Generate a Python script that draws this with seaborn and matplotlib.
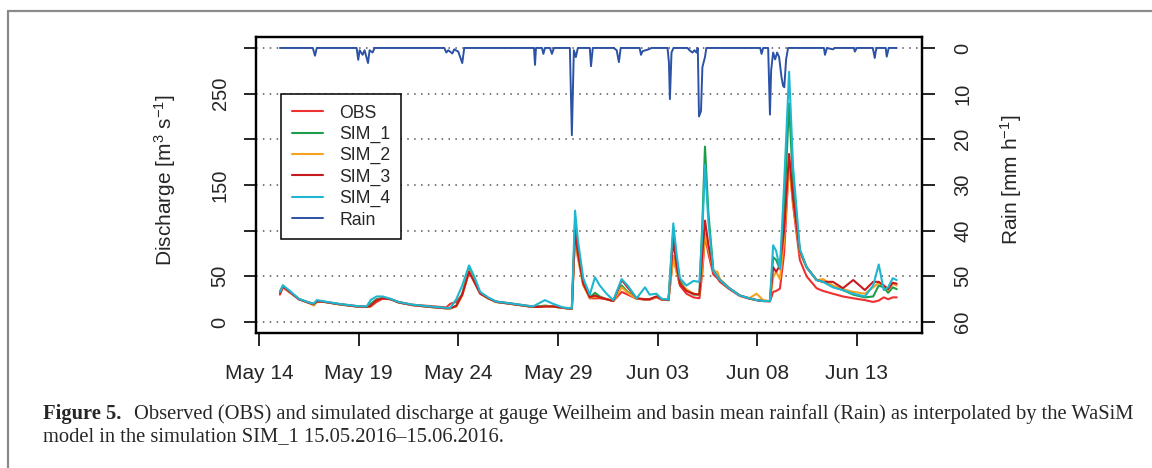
import matplotlib
matplotlib.use("Agg")
import matplotlib.pyplot as plt
import matplotlib.dates as mdates
from matplotlib.lines import Line2D
import pandas as pd
import seaborn as sns

sns.set_theme(style="ticks")
plt.rcParams["font.family"] = ["Liberation Sans", "DejaVu Sans"]
plt.rcParams["mathtext.fontset"] = "custom"
plt.rcParams["mathtext.rm"] = "Liberation Sans"
plt.rcParams["mathtext.default"] = "regular"

start = pd.Timestamp("2016-05-14")

# discharge at these times (days after 14 May 00:00)
q_days = [1.05, 1.2, 1.5, 2.0, 2.5, 2.75, 2.9, 3.3,
          4.0, 4.9, 5.4, 5.6, 5.9, 6.2, 6.6, 7.0,
          7.7, 8.6, 9.4, 9.6, 9.9, 10.2, 10.54, 10.8,
          11.1, 11.5, 11.9, 12.6, 13.75, 14.0, 14.35, 14.75,
          15.25, 15.7, 15.86, 16.0, 16.27, 16.6, 16.86, 17.1,
          17.44, 17.78, 18.2, 18.5, 18.95, 19.37, 19.6, 19.95,
          20.2, 20.55, 20.79, 20.95, 21.12, 21.45, 21.8, 22.1,
          22.25, 22.38, 22.55, 22.8, 23.0, 23.13, 23.6, 24.13,
          24.6, 24.97, 25.3, 25.64, 25.8, 25.95, 26.14, 26.35,
          26.6, 26.8, 27.14, 27.48, 27.98, 28.31, 28.8, 29.3,
          29.82, 30.4, 30.82, 31.1, 31.35, 31.57, 31.8, 32.0]

obs = [30, 38, 33, 25, 21.5, 20, 22, 22,
       19.8, 17.5, 17, 17, 22, 25.5, 25, 22,
       19, 17.5, 16, 20, 22, 30, 55, 45,
       32, 26, 22.5, 20.5, 17, 17, 17.5, 17.5,
       15.5, 14.5, 95, 72, 42, 26, 26, 26,
       25, 23, 33, 30, 25.5, 24.5, 24.5, 27,
       24.5, 24, 72, 56, 40, 31, 27, 26,
       55, 95, 75, 52, 48, 44, 36, 28.5,
       25.5, 24, 23, 22.5, 33, 34, 36.5, 75,
       177, 128, 68, 50, 37, 34, 31, 28,
       26, 24, 22, 23.5, 27, 25, 27, 27]

sim_1 = [33, 40, 34, 25, 21, 19.5, 23, 22,
         19.5, 17, 16.5, 20, 25, 26.5, 25, 21.5,
         18.5, 16.5, 15, 15, 18, 31, 58, 45,
         32, 26, 22, 20, 16.5, 17, 18, 17,
         15.5, 14.5, 110, 80, 42, 27, 32, 28,
         25, 23, 40, 33, 25.5, 25, 25, 28,
         25, 24, 100, 70, 45, 35, 30, 30,
         110, 192, 120, 56, 50, 46, 37, 29,
         26, 24, 23, 23, 71, 68, 58, 120,
         239, 150, 78, 60, 46, 44, 39, 35,
         30, 27, 28, 40, 38, 32, 38, 36]

sim_2 = [33, 39, 34, 25, 21, 18, 22, 22,
         19.5, 17, 16.5, 17, 24, 26.5, 25, 21.5,
         18.5, 16.5, 15, 15, 17, 29, 56, 44,
         31, 26, 22, 20, 16.5, 16.5, 17, 17,
         15.5, 14.5, 96, 70, 40, 26, 28, 27,
         25, 23, 38, 32, 25.5, 25, 25, 27,
         25, 24, 72, 55, 42, 36, 31, 30,
         60, 97, 80, 56, 55, 47, 37, 29,
         26, 31, 24, 23, 49, 55, 47, 90,
         172, 130, 76, 60, 46, 47, 40, 36,
         33, 31, 38, 43, 40, 35, 42, 40]

sim_3 = [32, 39, 34, 25, 21, 19.5, 22.5, 22,
         19.5, 17, 16.5, 17.5, 24, 26, 25, 21.5,
         18.5, 16.5, 15, 15, 17.5, 30, 55, 44,
         31, 26, 22, 20, 16.5, 16.5, 17, 17,
         15.5, 14.5, 100, 75, 42, 27, 29, 27,
         25, 23, 46, 38, 26, 25, 25, 28,
         25, 24, 90, 62, 42, 34, 31, 30,
         75, 111, 85, 56, 50, 46, 37, 29,
         26, 24, 23, 23, 60, 55, 62, 100,
         184, 135, 78, 60, 46, 44, 44, 37,
         46, 35, 44, 44, 40, 36, 43, 42]

sim_4 = [33, 40, 35, 25.5, 21.5, 20, 24, 22.5,
         20, 17.5, 17, 24, 28, 28, 25.5, 22,
         19, 17, 15.5, 15.5, 25, 40, 62, 50,
         33, 27, 22.5, 20.5, 17, 20, 24, 20,
         16, 15, 122, 90, 48, 30, 49, 40,
         31, 24, 47, 40, 26, 38, 30, 31,
         25.5, 24.5, 108, 75, 48, 40, 45, 44,
         100, 172, 110, 56, 50, 46, 37, 29,
         26, 24, 23, 23, 84, 78, 58, 150,
         274, 170, 80, 60, 46, 44, 38, 35,
         31, 28, 40, 63, 35, 38, 48, 46]

# basin mean rainfall (mm/h)
rain_days = [1.05, 2.7, 2.81, 2.9, 4.9, 4.98, 5.05, 5.2, 5.3, 5.47, 5.55, 5.7, 5.8,
             9.3, 9.4, 9.5, 9.7, 9.8, 10.0, 10.2, 10.3, 13.8, 13.85, 13.9,
             14.2, 14.27, 14.35, 14.6, 14.7, 14.8, 15.6, 15.7, 15.8, 15.9, 16.0,
             16.6, 16.66, 16.75, 17.8, 17.95, 18.06, 18.15, 19.1, 19.17, 19.25,
             19.4, 19.55, 19.7, 20.5, 20.57, 20.62, 20.7, 20.8, 21.5, 21.6, 21.75,
             21.85, 21.95, 22.02, 22.08, 22.18, 22.25, 22.38, 22.45, 25.15, 25.22,
             25.3, 25.55, 25.64, 25.7, 25.8, 25.9, 26.0, 26.1, 26.22, 26.3, 26.36,
             26.45, 26.55, 28.35, 28.4, 28.5, 28.8, 28.9, 29.85, 29.9, 30.0, 30.8,
             30.9, 30.95, 31.0, 31.45, 31.5, 31.6, 32.0]
rain = [0, 0, 1.7, 0, 0, 2.6, 0.5, 1.5, 0.5, 3.3, 0.5, 1.0, 0,
        0, 1.0, 0.5, 1.2, 0.3, 0.8, 3.3, 0, 0, 3.7, 0,
        0, 1.3, 0, 0, 1.3, 0, 0, 19.1, 0.5, 2.0, 0,
        0, 4.0, 0, 0, 0.5, 3.1, 0, 0, 1.5, 0.7,
        0.5, 0.3, 0, 0, 3.1, 11.2, 1.0, 0, 0, 0.5, 1.0,
        0.5, 1.0, 0, 15.0, 13.8, 4.2, 2.0, 0, 0, 1.3,
        0, 0, 14.6, 4.9, 1.0, 2.5, 1.0, 2.0, 6.4, 8.3, 8.6,
        2.5, 0, 0, 1.5, 0, 0.3, 0, 0, 0.8, 0, 0,
        2.2, 0.7, 0, 0, 1.9, 0, 0]

runs = ["OBS", "SIM_1", "SIM_2", "SIM_3", "SIM_4"]
run_colors = {"OBS": "#ee3030", "SIM_1": "#1e9e4a", "SIM_2": "#f6a21e",
              "SIM_3": "#c81a1e", "SIM_4": "#1fb6d0"}
rain_color = "#2c52a6"

tick_dates = pd.date_range("2016-05-14", periods=7, freq="5D")
q_ticks = [0, 50, 100, 150, 200, 250, 300]
q_labels = ["0", "50", "", "150", "", "250", ""]
rain_ticks = [0, 10, 20, 30, 40, 50, 60]

frames = []
for name, vals in zip(runs, [obs, sim_1, sim_2, sim_3, sim_4]):
    frames.append(pd.DataFrame({"time": start + pd.to_timedelta(q_days, unit="D"),
                                "discharge": vals, "run": name}))
df = pd.concat(frames, ignore_index=True)
rain_df = pd.DataFrame({"time": start + pd.to_timedelta(rain_days, unit="D"), "rain": rain})

W, H = 1152, 468
fig = plt.figure(figsize=(W / 100, H / 100), dpi=100)
ax = fig.add_axes([256 / W, 1 - 333 / H, (922 - 256) / W, (333 - 37) / H])

sns.lineplot(data=df, x="time", y="discharge", hue="run", hue_order=runs,
             palette=run_colors, linewidth=1.5, estimator=None, sort=False,
             legend=False, ax=ax)
ax2 = ax.twinx()
sns.lineplot(data=rain_df, x="time", y="rain", color=rain_color, linewidth=1.4,
             estimator=None, sort=False, ax=ax2)

ax.set_xlim(start - pd.Timedelta(days=0.15), start + pd.Timedelta(days=33.27))
ax.set_ylim(-12, 312)
ax2.set_ylim(62.4, -2.4)

ax.set_xticks(tick_dates)
ax.xaxis.set_major_formatter(mdates.DateFormatter("%b %d"))
ax.set_yticks(q_ticks)
ax.set_yticklabels(q_labels, rotation=90, va="center")
ax2.set_yticks(rain_ticks)
ax2.set_yticklabels([str(v) for v in rain_ticks], rotation=90, va="center")

ax.yaxis.grid(True, linestyle=(0, (1, 3.5)), color="#555555", linewidth=1.1)
ax.set_xlabel("")
ax2.set_xlabel("")

ax.tick_params(axis="x", length=9, width=1.2, pad=13.5, labelsize=15, color="black")
ax.tick_params(axis="y", length=9, width=1.2, pad=10, labelsize=14.5, color="black")
ax2.tick_params(axis="y", length=9, width=1.2, pad=13.5, labelsize=14.5, color="black")
for a in (ax, ax2):
    for s in a.spines.values():
        s.set_color("black")
        s.set_linewidth(1.6)

ax.set_ylabel("Discharge [m$^{3}$ s$^{-1}$]", fontsize=15)
ax.yaxis.label.set_va("center")
ax.yaxis.set_label_coords((165 - 256) / 666, (333 - 180) / 296)
ax2.set_ylabel("Rain [mm h$^{-1}$]", fontsize=15)
ax2.yaxis.label.set_va("center")
ax2.yaxis.set_label_coords((1011 - 256) / 666, (333 - 180) / 296)

handles = [Line2D([], [], color=run_colors[r], lw=1.5) for r in runs]
handles.append(Line2D([], [], color=rain_color, lw=1.4))
leg = ax2.legend(handles, runs + ["Rain"], loc="upper left",
                 bbox_to_anchor=(25 / 666, (333 - 94) / 296), borderaxespad=0,
                 fontsize=12.7, frameon=True, fancybox=False, framealpha=1,
                 edgecolor="black", handlelength=1.8, handletextpad=0.9,
                 labelspacing=0.24, borderpad=0.6)
leg.get_frame().set_linewidth(1.1)

# outer figure frame and caption
fig.add_artist(Line2D([8 / W, 1], [1 - 11 / H, 1 - 11 / H], transform=fig.transFigure,
                      color="#8a8a8a", lw=1.6))
fig.add_artist(Line2D([8 / W, 8 / W], [0, 1 - 11 / H], transform=fig.transFigure,
                      color="#8a8a8a", lw=1.6))
cap = dict(fontfamily="Liberation Serif", fontsize=14.8, va="center")
fig.text(43 / W, 1 - 414 / H, "Figure 5.", fontweight="bold", **cap)
fig.text(134 / W, 1 - 414 / H,
         "Observed (OBS) and simulated discharge at gauge Weilheim and basin mean "
         "rainfall (Rain) as interpolated by the WaSiM", **cap)
fig.text(43 / W, 1 - 437 / H,
         "model in the simulation SIM_1 15.05.2016\u201315.06.2016.", **cap)

fig.savefig("out.png", dpi=100)
